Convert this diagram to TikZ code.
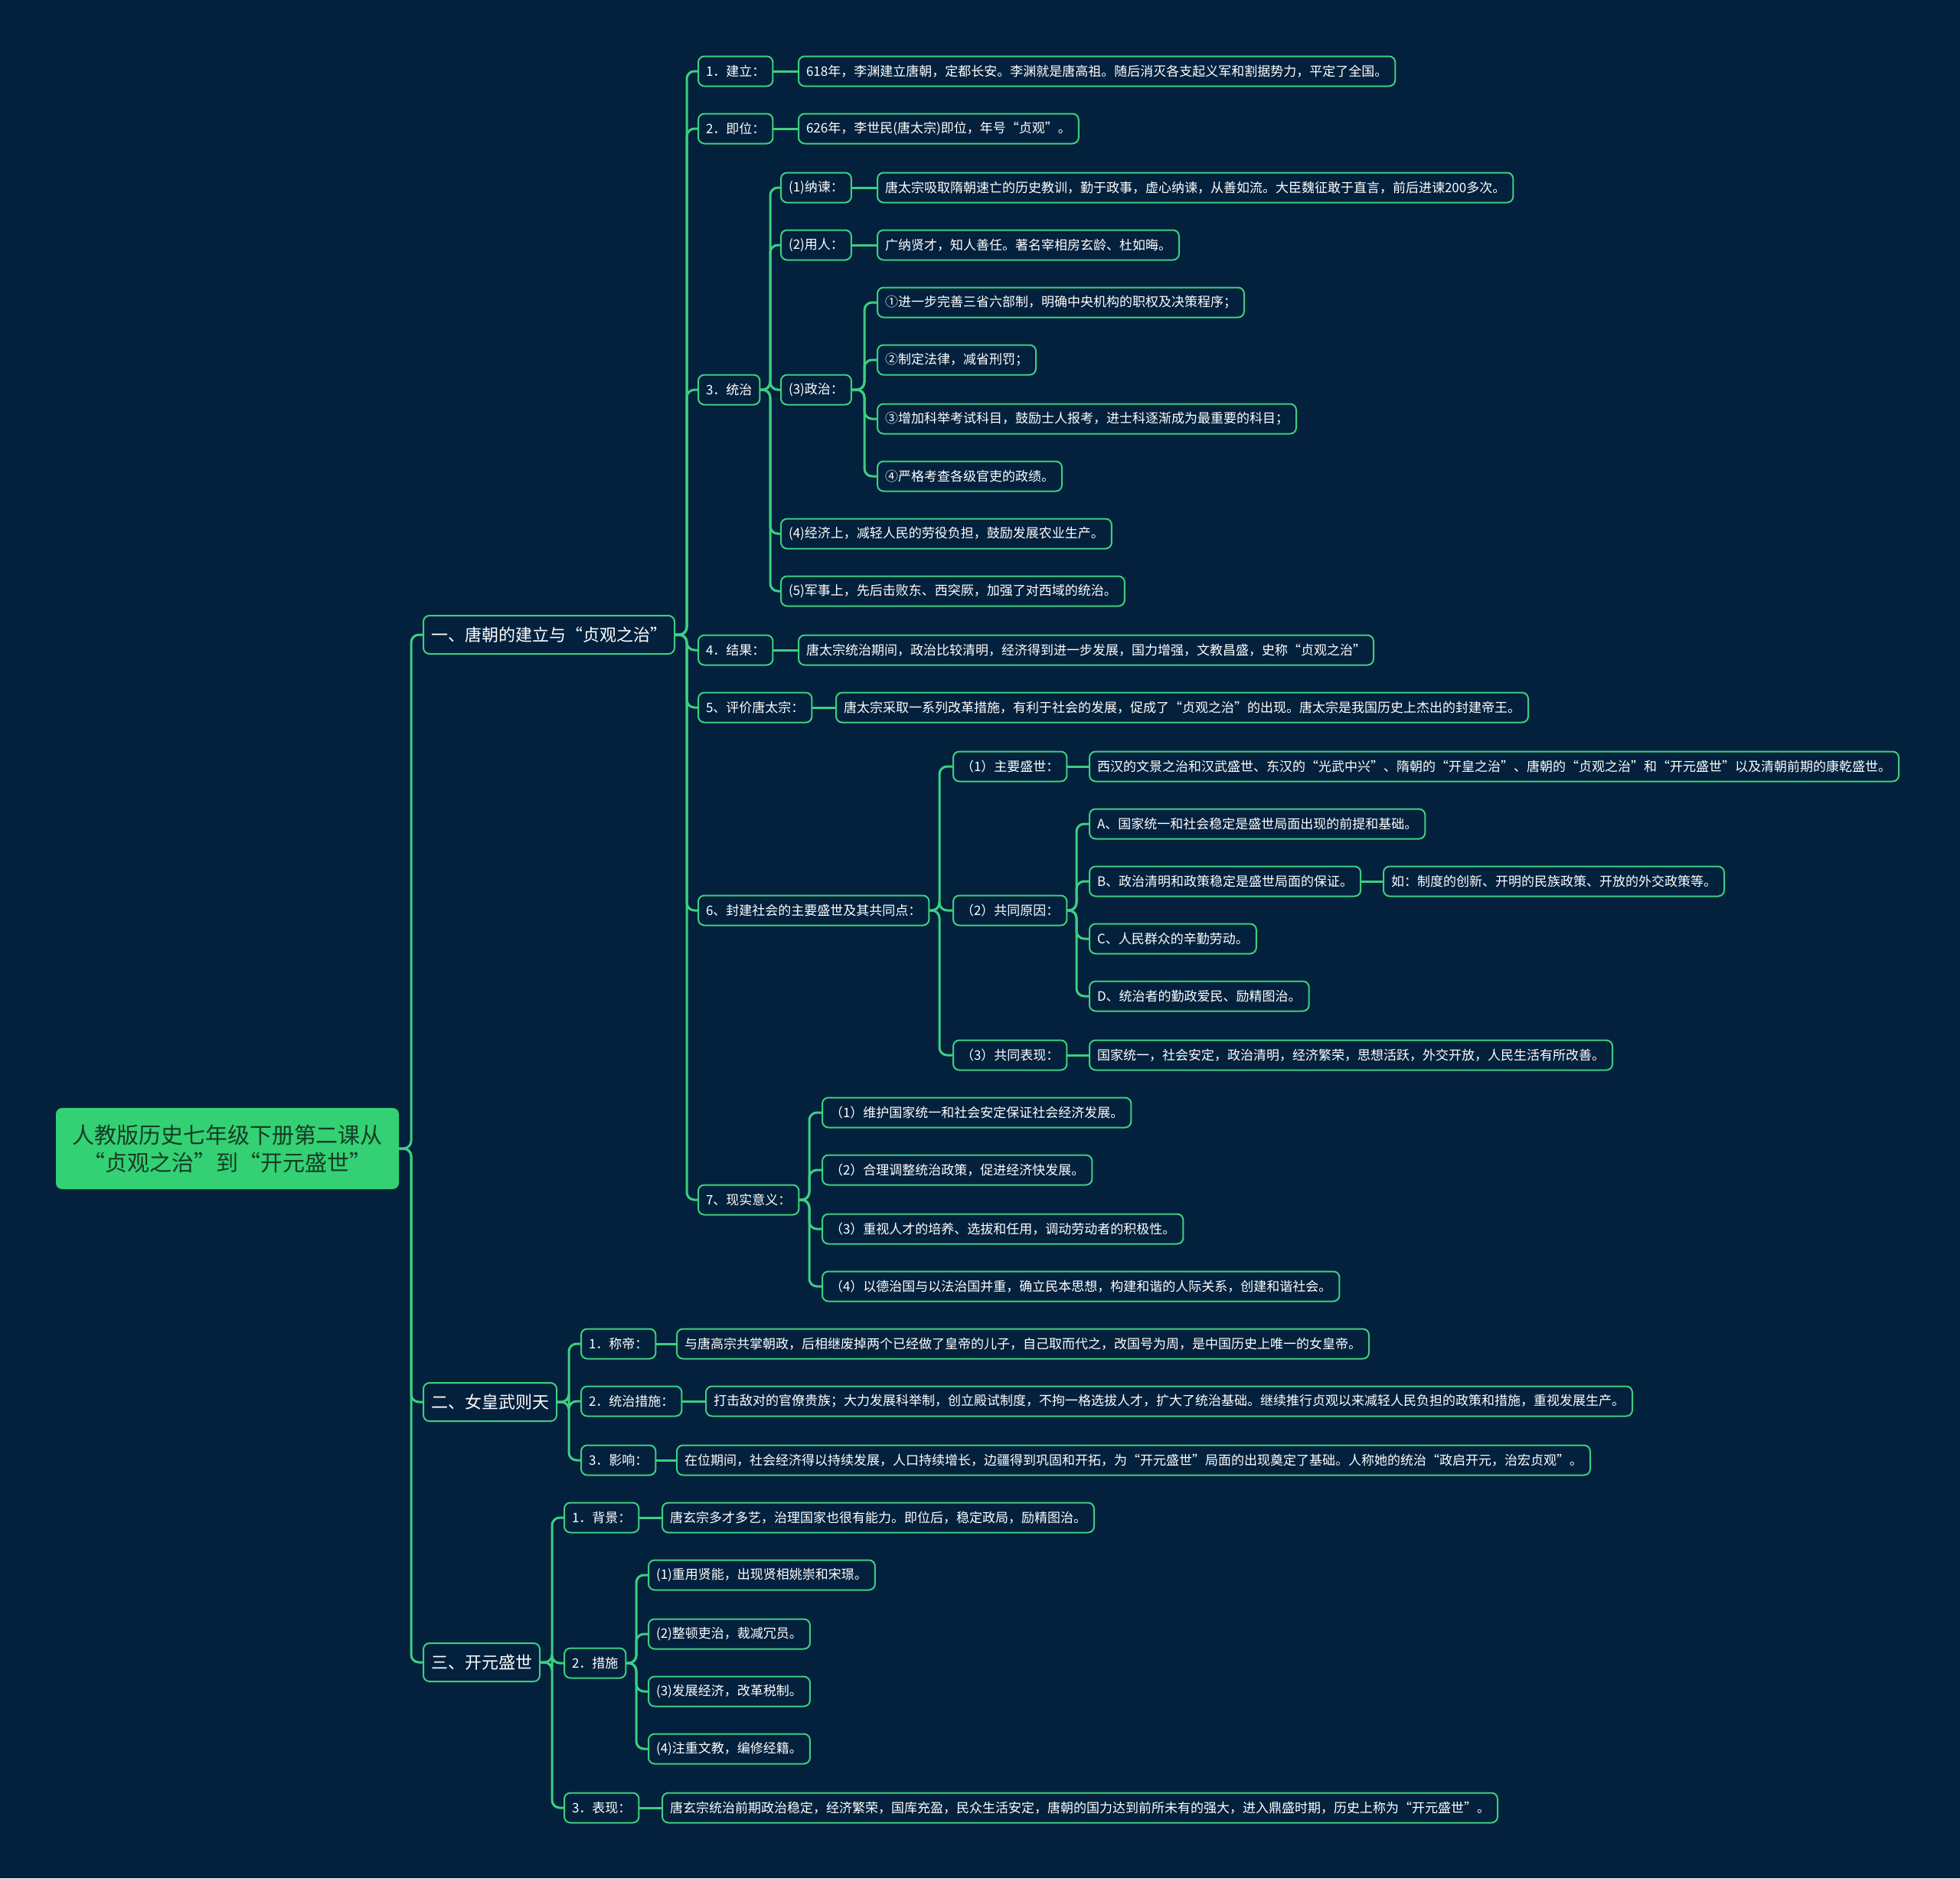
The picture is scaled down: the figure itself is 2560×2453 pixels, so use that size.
\documentclass[tikz,border=0pt]{standalone}
\usepackage{fontspec}
\setmainfont{Noto Sans CJK SC}
\usepackage{xcolor}
\usepackage{tikz}
\usetikzlibrary{positioning}
\definecolor{bgnavy}{HTML}{03213D}
\definecolor{linegreen}{HTML}{3DCF80}
\definecolor{rootgreen}{HTML}{33D173}
\definecolor{roottext}{HTML}{173B26}

\begin{document}
\begin{tikzpicture}[
    x=0.5pt,y=-0.5pt,
    root/.style={fill=rootgreen,rounded corners=4pt,text=roottext,
                 minimum width=224pt,minimum height=53pt,
                 font=\fontsize{14.5pt}{18pt}\selectfont,align=center},
    topic/.style={draw=linegreen,fill=bgnavy,rounded corners=4pt,line width=1pt,
                  text=white,minimum height=25pt,inner xsep=5pt,anchor=west,
                  font=\fontsize{11pt}{13pt}\selectfont},
    item/.style={draw=linegreen,fill=bgnavy,rounded corners=4pt,line width=1pt,
                 text=white,minimum height=19.5pt,inner xsep=5pt,anchor=west,
                 font=\fontsize{8.5pt}{10pt}\selectfont},
    link/.style={linegreen,line width=1.5pt,rounded corners=5pt}
  ]
  \useasboundingbox (0,0) rectangle (2560,2453);
  \fill[bgnavy] (0,0) rectangle (2560,2453);

  % root and main topics
  \node[root] (root) at (297,1500) {人教版历史七年级下册第二课从\\“贞观之治”到“开元盛世”};
  \node[topic] (tang) at (552,829)  {一、唐朝的建立与“贞观之治”};
  \node[topic] (wu)   at (552,1831) {二、女皇武则天};
  \node[topic] (kai)  at (552,2171) {三、开元盛世};

  % 一
  \node[item] (a1)  at (911,93)   {1．建立：};
  \node[item] (a1d) at (1042,93)  {618年，李渊建立唐朝，定都长安。李渊就是唐高祖。随后消灭各支起义军和割据势力，平定了全国。};
  \node[item] (a2)  at (911,168)  {2．即位：};
  \node[item] (a2d) at (1042,168) {626年，李世民(唐太宗)即位，年号“贞观”。};
  \node[item] (a3)  at (911,509)  {3．统治};
  \node[item] (b1)  at (1019,245) {(1)纳谏：};
  \node[item] (b1d) at (1145,245) {唐太宗吸取隋朝速亡的历史教训，勤于政事，虚心纳谏，从善如流。大臣魏征敢于直言，前后进谏200多次。};
  \node[item] (b2)  at (1019,320) {(2)用人：};
  \node[item] (b2d) at (1145,320) {广纳贤才，知人善任。著名宰相房玄龄、杜如晦。};
  \node[item] (b3)  at (1019,509) {(3)政治：};
  \node[item] (c1)  at (1145,395) {①进一步完善三省六部制，明确中央机构的职权及决策程序；};
  \node[item] (c2)  at (1145,470) {②制定法律，减省刑罚；};
  \node[item] (c3)  at (1145,547) {③增加科举考试科目，鼓励士人报考，进士科逐渐成为最重要的科目；};
  \node[item] (c4)  at (1145,622) {④严格考查各级官吏的政绩。};
  \node[item] (b4)  at (1019,697) {(4)经济上，减轻人民的劳役负担，鼓励发展农业生产。};
  \node[item] (b5)  at (1019,772) {(5)军事上，先后击败东、西突厥，加强了对西域的统治。};
  \node[item] (a4)  at (911,849)  {4．结果：};
  \node[item] (a4d) at (1042,849) {唐太宗统治期间，政治比较清明，经济得到进一步发展，国力增强，文教昌盛，史称“贞观之治”};
  \node[item] (a5)  at (911,924)  {5、评价唐太宗：};
  \node[item] (a5d) at (1091,924) {唐太宗采取一系列改革措施，有利于社会的发展，促成了“贞观之治”的出现。唐太宗是我国历史上杰出的封建帝王。};
  \node[item] (a6)  at (911,1189) {6、封建社会的主要盛世及其共同点：};
  \node[item] (d1)  at (1244,1001) {（1）主要盛世：};
  \node[item] (d1d) at (1422,1001) {西汉的文景之治和汉武盛世、东汉的“光武中兴”、隋朝的“开皇之治”、唐朝的“贞观之治”和“开元盛世”以及清朝前期的康乾盛世。};
  \node[item] (d2)  at (1244,1189) {（2）共同原因：};
  \node[item] (e1)  at (1422,1076) {A、国家统一和社会稳定是盛世局面出现的前提和基础。};
  \node[item] (e2)  at (1422,1151) {B、政治清明和政策稳定是盛世局面的保证。};
  \node[item] (e2d) at (1806,1151) {如：制度的创新、开明的民族政策、开放的外交政策等。};
  \node[item] (e3)  at (1422,1226) {C、人民群众的辛勤劳动。};
  \node[item] (e4)  at (1422,1301) {D、统治者的勤政爱民、励精图治。};
  \node[item] (d3)  at (1244,1378) {（3）共同表现：};
  \node[item] (d3d) at (1422,1378) {国家统一，社会安定，政治清明，经济繁荣，思想活跃，外交开放，人民生活有所改善。};
  \node[item] (a7)  at (911,1567) {7、现实意义：};
  \node[item] (f1)  at (1073,1453) {（1）维护国家统一和社会安定保证社会经济发展。};
  \node[item] (f2)  at (1073,1528) {（2）合理调整统治政策，促进经济快发展。};
  \node[item] (f3)  at (1073,1605) {（3）重视人才的培养、选拔和任用，调动劳动者的积极性。};
  \node[item] (f4)  at (1073,1680) {（4）以德治国与以法治国并重，确立民本思想，构建和谐的人际关系，创建和谐社会。};

  % 二
  \node[item] (g1)  at (758,1755) {1．称帝：};
  \node[item] (g1d) at (883,1755) {与唐高宗共掌朝政，后相继废掉两个已经做了皇帝的儿子，自己取而代之，改国号为周，是中国历史上唯一的女皇帝。};
  \node[item] (g2)  at (758,1830) {2．统治措施：};
  \node[item] (g2d) at (921,1830) {打击敌对的官僚贵族；大力发展科举制，创立殿试制度，不拘一格选拔人才，扩大了统治基础。继续推行贞观以来减轻人民负担的政策和措施，重视发展生产。};
  \node[item] (g3)  at (758,1907) {3．影响：};
  \node[item] (g3d) at (883,1907) {在位期间，社会经济得以持续发展，人口持续增长，边疆得到巩固和开拓，为“开元盛世”局面的出现奠定了基础。人称她的统治“政启开元，治宏贞观”。};

  % 三
  \node[item] (h1)  at (736,1982) {1．背景：};
  \node[item] (h1d) at (864,1982) {唐玄宗多才多艺，治理国家也很有能力。即位后，稳定政局，励精图治。};
  \node[item] (h2)  at (736,2172) {2．措施};
  \node[item] (i1)  at (846,2057) {(1)重用贤能，出现贤相姚崇和宋璟。};
  \node[item] (i2)  at (846,2134) {(2)整顿吏治，裁减冗员。};
  \node[item] (i3)  at (846,2209) {(3)发展经济，改革税制。};
  \node[item] (i4)  at (846,2284) {(4)注重文教，编修经籍。};
  \node[item] (h3)  at (736,2361) {3．表现：};
  \node[item] (h3d) at (864,2361) {唐玄宗统治前期政治稳定，经济繁荣，国库充盈，民众生活安定，唐朝的国力达到前所未有的强大，进入鼎盛时期，历史上称为“开元盛世”。};

  % branch links
  \foreach \c in {tang,wu,kai}
    \draw[link] (\c.west) -- ++(-15,0) |- (root.east);
  \foreach \c in {a1,a2,a3,a4,a5,a6,a7}
    \draw[link] (\c.west) -- ++(-14,0) |- (tang.east);
  \foreach \c in {b1,b2,b3,b4,b5}
    \draw[link] (\c.west) -- ++(-13,0) |- (a3.east);
  \foreach \c in {c1,c2,c3,c4}
    \draw[link] (\c.west) -- ++(-16,0) |- (b3.east);
  \foreach \c in {d1,d2,d3}
    \draw[link] (\c.west) -- ++(-17,0) |- (a6.east);
  \foreach \c in {e1,e2,e3,e4}
    \draw[link] (\c.west) -- ++(-16,0) |- (d2.east);
  \foreach \c in {f1,f2,f3,f4}
    \draw[link] (\c.west) -- ++(-16,0) |- (a7.east);
  \foreach \c in {g1,g2,g3}
    \draw[link] (\c.west) -- ++(-15,0) |- (wu.east);
  \foreach \c in {h1,h2,h3}
    \draw[link] (\c.west) -- ++(-15,0) |- (kai.east);
  \foreach \c in {i1,i2,i3,i4}
    \draw[link] (\c.west) -- ++(-15,0) |- (h2.east);

  % label to detail
  \foreach \p in {a1,a2,a4,a5,b1,b2,d1,e2,d3,g1,g2,g3,h1,h3}
    \draw[link] (\p.east) -- (\p d.west);
\end{tikzpicture}
\end{document}
